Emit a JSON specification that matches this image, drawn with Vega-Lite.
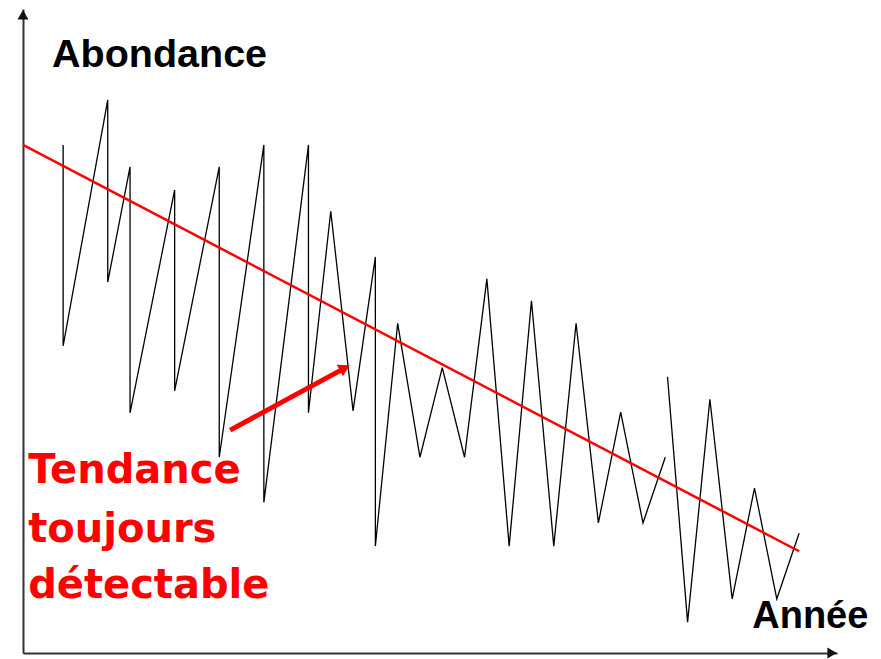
{
  "$schema": "https://vega.github.io/schema/vega-lite/v6.json",
  "width": 814,
  "height": 644,
  "autosize": {"type": "none"},
  "padding": {"left": 23, "top": 9, "right": 44, "bottom": 6},
  "background": "white",
  "config": {"view": {"stroke": null}},
  "datasets": {
    "series": [
      {"seg": "A", "i": 1, "annee": 1, "abondance": 78.9},
      {"seg": "A", "i": 2, "annee": 1, "abondance": 47.7},
      {"seg": "A", "i": 3, "annee": 3, "abondance": 85.9},
      {"seg": "A", "i": 4, "annee": 3, "abondance": 57.6},
      {"seg": "A", "i": 5, "annee": 4, "abondance": 75.5},
      {"seg": "A", "i": 6, "annee": 4, "abondance": 37.3},
      {"seg": "A", "i": 7, "annee": 6, "abondance": 71.9},
      {"seg": "A", "i": 8, "annee": 6, "abondance": 40.7},
      {"seg": "A", "i": 9, "annee": 8, "abondance": 75.5},
      {"seg": "A", "i": 10, "annee": 8, "abondance": 30.4},
      {"seg": "A", "i": 11, "annee": 10, "abondance": 78.9},
      {"seg": "A", "i": 12, "annee": 10, "abondance": 23.4},
      {"seg": "A", "i": 13, "annee": 12, "abondance": 78.9},
      {"seg": "A", "i": 14, "annee": 12, "abondance": 37.3},
      {"seg": "A", "i": 15, "annee": 13, "abondance": 68.6},
      {"seg": "A", "i": 16, "annee": 14, "abondance": 37.6},
      {"seg": "A", "i": 17, "annee": 15, "abondance": 61.5},
      {"seg": "A", "i": 18, "annee": 15, "abondance": 16.6},
      {"seg": "A", "i": 19, "annee": 16, "abondance": 51.2},
      {"seg": "A", "i": 20, "annee": 17, "abondance": 30.4},
      {"seg": "A", "i": 21, "annee": 18, "abondance": 44.3},
      {"seg": "A", "i": 22, "annee": 19, "abondance": 30.4},
      {"seg": "A", "i": 23, "annee": 20, "abondance": 58.1},
      {"seg": "A", "i": 24, "annee": 21, "abondance": 16.6},
      {"seg": "A", "i": 25, "annee": 22, "abondance": 54.7},
      {"seg": "A", "i": 26, "annee": 23, "abondance": 16.6},
      {"seg": "A", "i": 27, "annee": 24, "abondance": 51.2},
      {"seg": "A", "i": 28, "annee": 25, "abondance": 20.2},
      {"seg": "A", "i": 29, "annee": 26, "abondance": 37.4},
      {"seg": "A", "i": 30, "annee": 27, "abondance": 20.2},
      {"seg": "A", "i": 31, "annee": 28, "abondance": 30.4},
      {"seg": "B", "i": 32, "annee": 28.1, "abondance": 42.9},
      {"seg": "B", "i": 33, "annee": 29, "abondance": 4.8},
      {"seg": "B", "i": 34, "annee": 30, "abondance": 39.4},
      {"seg": "B", "i": 35, "annee": 31, "abondance": 8.4},
      {"seg": "B", "i": 36, "annee": 32, "abondance": 25.6},
      {"seg": "B", "i": 37, "annee": 33, "abondance": 8.4},
      {"seg": "B", "i": 38, "annee": 34, "abondance": 18.6}
    ],
    "tendance": [
      {"annee": -0.8, "abondance": 78.9},
      {"annee": 34.0, "abondance": 15.8}
    ],
    "fleche": [
      {"annee": 8.49, "abondance": 34.6},
      {"annee": 13.5, "abondance": 44.0}
    ],
    "pointe": [
      {"annee": 13.63, "abondance": 44.27}
    ],
    "axeY": [{"annee": -0.8, "abondance": 99.1}],
    "axeX": [{"annee": 35.48, "abondance": 0}],
    "titreY": [
      {"annee": 0.5, "abondance": 91.0, "texte": "Abondance"}
    ],
    "titreX": [
      {"annee": 31.9, "abondance": 3.9, "texte": "Année"}
    ],
    "note": [
      {"annee": -0.57, "abondance": 26.4, "texte": "Tendance"},
      {"annee": -0.57, "abondance": 17.2, "texte": "toujours"},
      {"annee": -0.57, "abondance": 8.5, "texte": "détectable"}
    ]
  },
  "encoding": {
    "x": {"field": "annee", "type": "quantitative", "scale": {"domain": [-0.8, 35.7], "nice": false, "zero": false},
          "axis": {"labels": false, "ticks": false, "grid": false, "title": null, "domainColor": "#333", "domainWidth": 2}},
    "y": {"field": "abondance", "type": "quantitative", "scale": {"domain": [0, 100], "nice": false},
          "axis": {"labels": false, "ticks": false, "grid": false, "title": null, "domainColor": "#333", "domainWidth": 2}}
  },
  "layer": [
    {
      "data": {"name": "series"},
      "mark": {"type": "line", "color": "#000", "strokeWidth": 1.3},
      "encoding": {"detail": {"field": "seg"}, "order": {"field": "i", "type": "quantitative"}}
    },
    {
      "data": {"name": "tendance"},
      "mark": {"type": "line", "color": "#ff0000", "strokeWidth": 2.5},
      "encoding": {}
    },
    {
      "data": {"name": "fleche"},
      "mark": {"type": "line", "color": "#ff0000", "strokeWidth": 5},
      "encoding": {}
    },
    {
      "data": {"name": "pointe"},
      "mark": {"type": "point", "shape": "triangle-right", "filled": true, "color": "#ff0000", "size": 170, "angle": 331.6, "opacity": 1}
    },
    {
      "data": {"name": "axeY"},
      "mark": {"type": "point", "shape": "triangle-up", "filled": true, "color": "#111", "size": 120, "opacity": 1}
    },
    {
      "data": {"name": "axeX"},
      "mark": {"type": "point", "shape": "triangle-right", "filled": true, "color": "#111", "size": 120, "opacity": 1}
    },
    {
      "data": {"name": "titreY"},
      "mark": {"type": "text", "align": "left", "baseline": "alphabetic", "font": "Liberation Sans", "fontWeight": "bold", "fontSize": 39.5, "color": "#000"},
      "encoding": {"text": {"field": "texte"}}
    },
    {
      "data": {"name": "titreX"},
      "mark": {"type": "text", "align": "left", "baseline": "alphabetic", "font": "Liberation Sans", "fontWeight": "bold", "fontSize": 38, "color": "#000"},
      "encoding": {"text": {"field": "texte"}}
    },
    {
      "data": {"name": "note"},
      "mark": {"type": "text", "align": "left", "baseline": "alphabetic", "font": "DejaVu Sans", "fontWeight": "bold", "fontSize": 40, "color": "#ff0000"},
      "encoding": {"text": {"field": "texte"}}
    }
  ]
}
